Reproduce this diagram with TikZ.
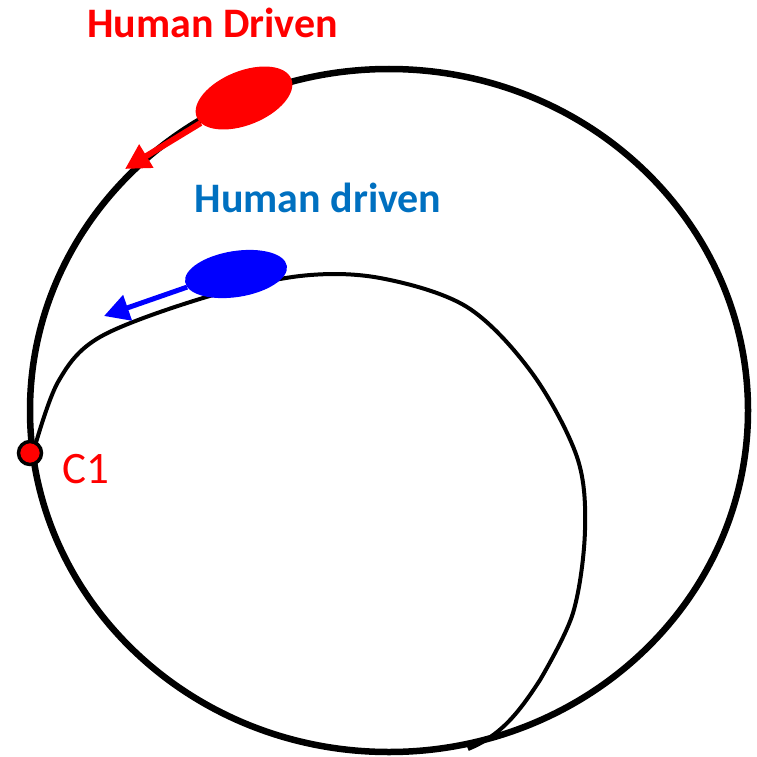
\documentclass[tikz,border=0pt]{standalone}
\usepackage{fontspec}
\setmainfont{Carlito}
\usetikzlibrary{shapes.geometric,arrows.meta}
\definecolor{officeblue}{RGB}{0,112,192}
\tikzset{
  blob/.style={ellipse, inner sep=0pt, draw=none},
  label/.style={inner sep=0pt, anchor=base, font=\fontsize{42}{46}\selectfont\bfseries},
  mover/.style={-{Triangle[length=25pt,width=26pt]}},
}
\begin{document}
\begin{tikzpicture}[x=1pt,y=-1pt]
\path[use as bounding box] (0,0) rectangle (757,757);
% outer circle
\draw[line width=6.5pt] (389,410.5) ellipse [x radius=359pt, y radius=341.5pt];
% inner curve
\draw[line width=4pt] plot[smooth, tension=0.55] coordinates {
 (33,453) (58,382) (100,337) (203,298) (300,276) (380,278)
 (467,307) (532,373) (577,457) (585,530) (573,613) (540,680)}
 .. controls (518,714) and (500,736) .. (468,749);
% blobs
\node[blob, fill=red, minimum width=102pt, minimum height=54pt, rotate=22] (redblob) at (244,98) {};
\node[blob, fill=blue, minimum width=103pt, minimum height=46pt, rotate=9] (blueblob) at (236,274) {};
% arrows
\coordinate (redtip) at (125,169);
\coordinate (bluetip) at (104,316);
\draw[mover, red, line width=6pt] (redblob.188) -- (redtip);
\draw[mover, blue, line width=5pt] (blueblob.186) -- (bluetip);
% C1 point
\node[circle, fill=red, draw=black, line width=3.5pt, minimum size=23pt, inner sep=0pt] (c1) at (30,453) {};
\node[label, font=\fontsize{45}{48}\selectfont, text=red] (c1label) at (86,483) {C1};
% labels
\node[label, text=red] (hd1) at (212.5,38) {Human Driven};
\node[label, text=officeblue] (hd2) at (318,212) {Human driven};
\end{tikzpicture}
\end{document}
